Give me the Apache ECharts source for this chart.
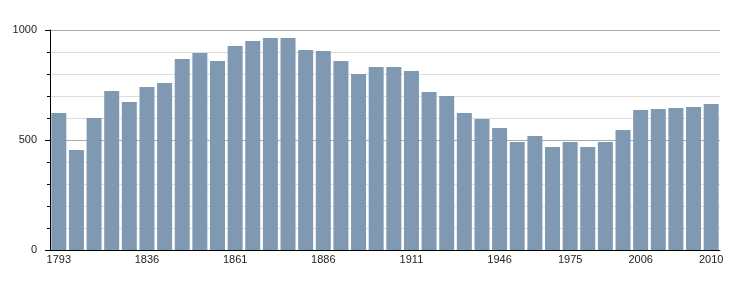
<!DOCTYPE html>
<html>
<head>
<meta charset="utf-8">
<script src="https://cdn.jsdelivr.net/npm/echarts@6/dist/echarts.min.js"></script>
<style>html,body{margin:0;padding:0;background:#fff;}#c{width:750px;height:300px;}</style>
</head>
<body>
<div id="c"></div>
<script>
const years = ['1793','1800','1806','1821','1831','1836','1841','1846','1851','1856','1861','1866','1872','1876','1881','1886','1891','1896','1901','1906','1911','1921','1926','1931','1936','1946','1954','1962','1968','1975','1982','1990','1999','2006','2007','2008','2009','2010'];
const population = [623,455,600,723,673,741,759,868,895,859,927,950,964,964,909,905,859,800,832,832,814,718,700,623,595,555,491,518,468,491,468,491,545,636,641,645,650,664];
const shownLabels = ['1793','1836','1861','1886','1911','1946','1975','2006','2010'];
const yTickLabels = [0, 500, 1000];

const chart = echarts.init(document.getElementById('c'), null, {renderer:'canvas'});
chart.setOption({
  animation: false,
  grid: {left: 50, right: 30, top: 30, bottom: 50},
  xAxis: {
    type: 'category',
    data: years,
    axisLine: {lineStyle: {color: '#000', width: 1}},
    axisTick: {show: false},
    axisLabel: {
      interval: 0,
      color: '#222',
      fontFamily: 'Liberation Sans, Arial, sans-serif',
      fontSize: 11,
      margin: 4,
      formatter: v => shownLabels.includes(v) ? v : ''
    }
  },
  yAxis: {
    type: 'value',
    min: 0, max: 1000, interval: 500,
    axisLine: {show: true, lineStyle: {color: '#000', width: 1}},
    axisTick: {show: true, length: 5, lineStyle: {color: '#000'}},
    minorTick: {show: true, splitNumber: 5, length: 3, lineStyle: {color: '#000'}},
    splitLine: {show: true, lineStyle: {color: '#aaa', width: 1}},
    minorSplitLine: {show: true, lineStyle: {color: '#ddd', width: 1}},
    axisLabel: {
      color: '#222',
      fontFamily: 'Liberation Sans, Arial, sans-serif',
      fontSize: 11,
      margin: 13,
      formatter: v => yTickLabels.includes(v) ? String(v) : ''
    }
  },
  series: [{
    type: 'bar',
    data: population,
    barWidth: '85%',
    itemStyle: {color: '#7f99b2'}
  }]
});
</script>
</body>
</html>
